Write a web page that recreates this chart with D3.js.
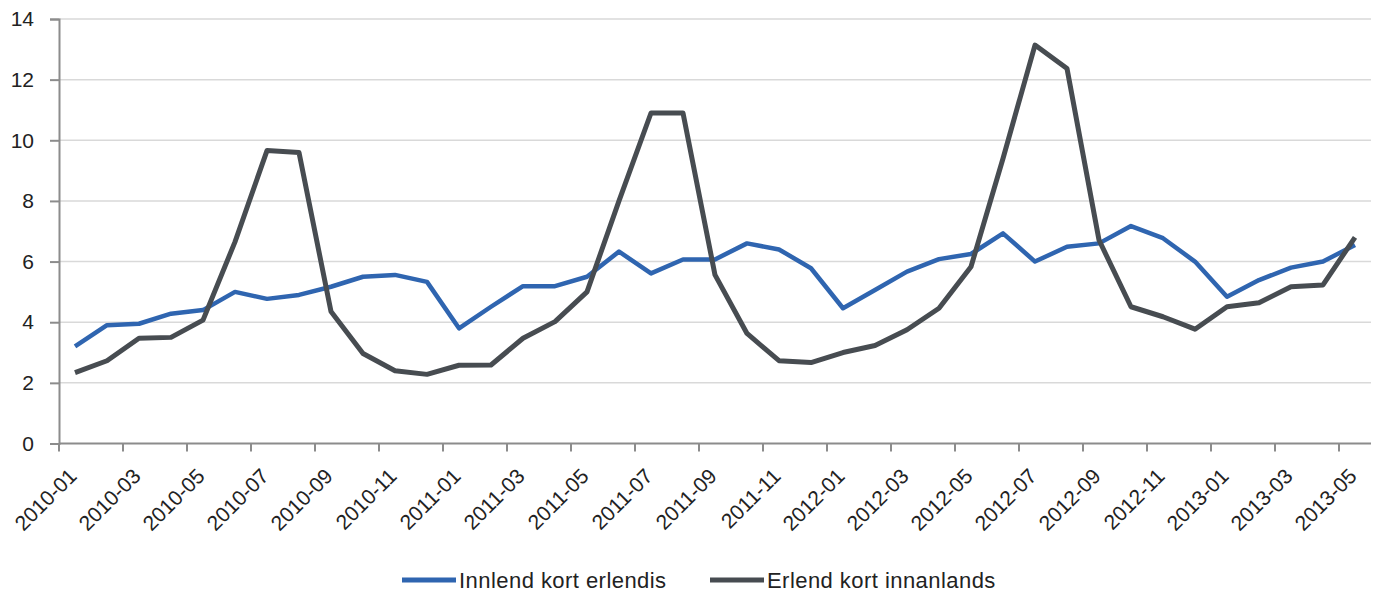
<!DOCTYPE html>
<html>
<head>
<meta charset="utf-8">
<script src="https://cdn.jsdelivr.net/npm/d3@7"></script>
<style>
  html, body { margin: 0; padding: 0; background: #fff; }
  svg { display: block; }
  text { font-family: "Liberation Sans", Arial, sans-serif; fill: #222; }
</style>
</head>
<body>
<svg id="chart" width="1381" height="592"></svg>
<script>
const months = [
  "2010-01","2010-02","2010-03","2010-04","2010-05","2010-06","2010-07","2010-08","2010-09","2010-10","2010-11","2010-12",
  "2011-01","2011-02","2011-03","2011-04","2011-05","2011-06","2011-07","2011-08","2011-09","2011-10","2011-11","2011-12",
  "2012-01","2012-02","2012-03","2012-04","2012-05","2012-06","2012-07","2012-08","2012-09","2012-10","2012-11","2012-12",
  "2013-01","2013-02","2013-03","2013-04","2013-05"
];
const innlendKortErlendis = [
  3.2, 3.9, 3.95, 4.28, 4.4, 5.0, 4.77, 4.9, 5.17, 5.5, 5.56, 5.33,
  3.8, 4.51, 5.19, 5.19, 5.5, 6.33, 5.61, 6.07, 6.07, 6.6, 6.4, 5.78,
  4.46, 5.06, 5.67, 6.08, 6.25, 6.93, 6.0, 6.49, 6.6, 7.17, 6.77, 6.0,
  4.84, 5.39, 5.8, 6.0, 6.55
];
const erlendKortInnanlands = [
  2.34, 2.73, 3.47, 3.5, 4.07, 6.65, 9.66, 9.6, 4.35, 2.97, 2.4, 2.28,
  2.58, 2.59, 3.47, 4.02, 5.0, 8.0, 10.9, 10.9, 5.56, 3.63, 2.73, 2.67,
  3.0, 3.23, 3.75, 4.46, 5.83, 9.4, 13.14, 12.37, 6.71, 4.51, 4.18, 3.77,
  4.51, 4.64, 5.17, 5.23, 6.8
];
const yTicks = [0, 2, 4, 6, 8, 10, 12, 14];
const seriesNames = ["Innlend kort erlendis", "Erlend kort innanlands"];
const seriesColors = ["#2f65b0", "#474c51"];

const svg = d3.select("#chart");
const plotLeft = 59, plotRight = 1371, plotTop = 19, plotBottom = 443.5;

const x = d3.scaleBand().domain(months).range([plotLeft, plotRight]).padding(0);
const y = d3.scaleLinear().domain([0, 14]).range([plotBottom, plotTop]);

// gridlines
svg.append("g").selectAll("line").data(yTicks.filter(d => d > 0)).join("line")
  .attr("x1", plotLeft).attr("x2", plotRight)
  .attr("y1", d => y(d)).attr("y2", d => y(d))
  .attr("stroke", "#d9d9d9").attr("stroke-width", 1.5);

// y axis
const yAxis = svg.append("g").attr("transform", `translate(${plotLeft},0)`)
  .call(d3.axisLeft(y).tickValues(yTicks).tickSize(9).tickPadding(16).tickFormat(d3.format("d")));
yAxis.select(".domain").attr("stroke", "#8c8c8c").attr("stroke-width", 2);
yAxis.selectAll(".tick line").attr("stroke", "#8c8c8c").attr("stroke-width", 2);
yAxis.selectAll(".tick text").style("font-size", "21px").style("font-family", "Liberation Sans, Arial, sans-serif").attr("fill", "#222");

// x axis (labels at every second category)
const labelCats = months.filter((d, i) => i % 2 === 0);
const xAxis = svg.append("g").attr("transform", `translate(0,${plotBottom})`)
  .call(d3.axisBottom(x).tickValues(labelCats).tickSize(0).tickPadding(0));
xAxis.select(".domain").remove();
xAxis.selectAll(".tick text")
  .style("font-size", "21px").style("font-family", "Liberation Sans, Arial, sans-serif").attr("fill", "#222")
  .attr("text-anchor", "end")
  .attr("y", 0)
  .attr("dy", "0")
  .attr("transform", "translate(3,34) rotate(-45)");
// x axis line & tick marks at category boundaries
svg.append("line").attr("x1", plotLeft).attr("x2", plotRight).attr("y1", plotBottom).attr("y2", plotBottom)
  .attr("stroke", "#8c8c8c").attr("stroke-width", 2);
svg.append("g").selectAll("line").data(labelCats).join("line")
  .attr("x1", d => x(d)).attr("x2", d => x(d))
  .attr("y1", plotBottom).attr("y2", plotBottom + 8)
  .attr("stroke", "#8c8c8c").attr("stroke-width", 2);

// lines
const line = d3.line().x((d, i) => x(months[i]) + x.bandwidth() / 2).y(d => y(d));
[innlendKortErlendis, erlendKortInnanlands].forEach((s, k) => {
  svg.append("path").datum(s)
    .attr("d", line)
    .attr("fill", "none")
    .attr("stroke", seriesColors[k])
    .attr("stroke-width", k === 0 ? 4.5 : 5)
    .attr("stroke-linejoin", "round");
});

// legend
const legendItems = [{x: 402}, {x: 710}];
legendItems.forEach((it, k) => {
  const g = svg.append("g").attr("transform", `translate(${it.x},580)`);
  g.append("line").attr("x1", 0).attr("x2", 54).attr("y1", 0).attr("y2", 0)
    .attr("stroke", seriesColors[k]).attr("stroke-width", 5);
  g.append("text").attr("x", 57).attr("y", 0).attr("dy", "0.35em")
    .style("font-size", "22px").style("letter-spacing", "0.45px")
    .text(seriesNames[k]);
});
</script>
</body>
</html>
